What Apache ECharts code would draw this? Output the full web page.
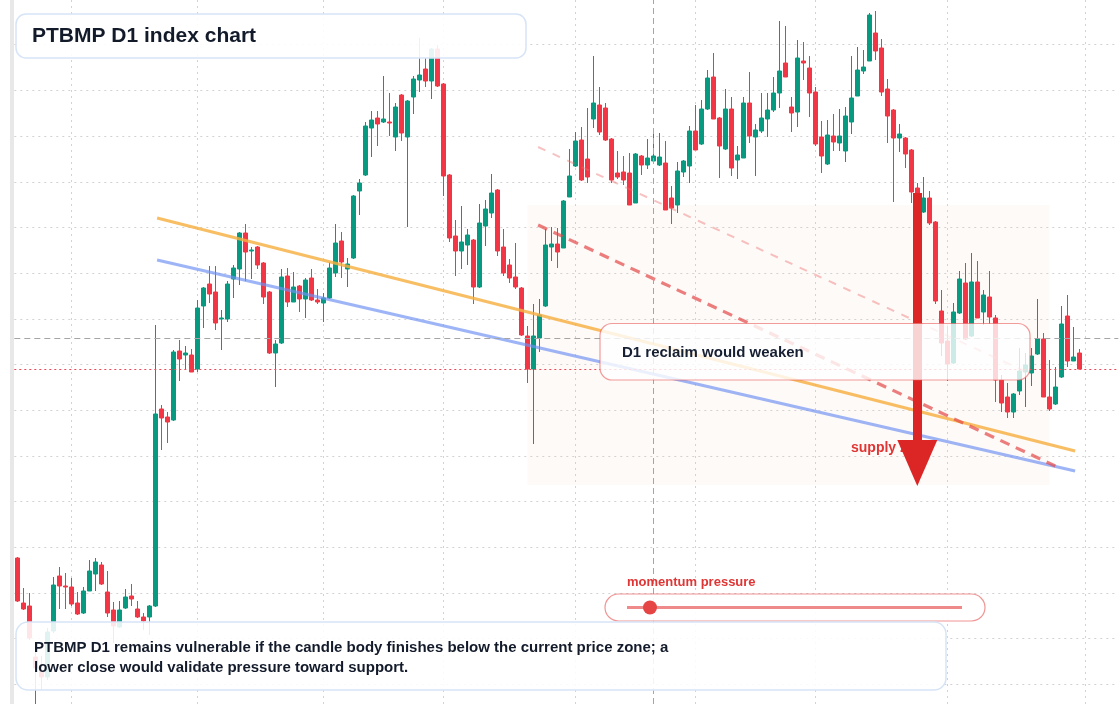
<!DOCTYPE html>
<html>
<head>
<meta charset="utf-8">
<script src="https://cdn.jsdelivr.net/npm/echarts@6/dist/echarts.min.js"></script>
<style>
html,body{margin:0;padding:0;background:#fff;}
#c{width:1120px;height:704px;}
</style>
</head>
<body>
<div id="c"></div>
<script>
// ---- data (price units, arbitrary index scale) ----
const categories = Array.from({length: 184}, (_, i) => 'D' + (i + 1));

const opens = [
172,127,124,73,59,53,99,154,144,143,
127,117,139,156,165,138,120,103,122,134,
121,113,113,124,321,313,310,379,375,375,
361,424,446,438,411,411,451,461,497,479,
483,467,438,377,387,454,428,444,431,452,
430,427,432,457,489,461,472,539,555,602,
612,608,608,593,635,593,633,650,661,649,
681,646,555,494,479,485,490,443,504,517,
540,483,465,453,442,394,361,392,424,483,
486,482,533,564,590,571,611,625,622,591,
557,558,557,527,574,565,569,565,567,532,
525,558,564,599,586,621,653,612,581,621,
570,572,627,593,599,611,620,637,667,623,
618,669,662,638,593,566,594,587,579,608,
634,659,669,697,682,641,620,592,592,580,
542,518,532,508,419,389,367,417,447,394,
448,418,433,412,350,333,318,339,358,357,
376,391,333,326,353,414,369,377];

const closes = [
129,121,92,62,53,98,145,144,143,126,
116,139,159,168,146,117,104,120,133,131,
113,109,124,316,312,308,378,371,377,358,
422,442,436,407,412,446,462,497,478,480,
465,433,377,386,453,428,443,431,450,430,
428,432,462,487,468,466,534,547,604,610,
606,611,607,623,597,629,651,655,649,681,
644,554,492,479,488,495,443,507,521,537,
479,457,452,443,395,361,394,415,485,486,
478,529,554,589,550,553,627,598,590,550,
553,550,525,576,565,572,574,573,520,522,
559,569,599,580,621,652,611,584,621,562,
575,627,594,600,612,620,637,659,653,617,
672,667,637,586,574,595,588,594,614,632,
660,663,715,679,638,614,592,596,576,538,
534,532,507,429,387,366,418,451,391,448,
412,435,413,350,327,318,336,359,365,374,
391,333,321,343,406,369,373,361];

const lows = [
128,120,90,24,40,50,97,121,121,124,
115,116,139,139,145,113,87,102,121,124,
112,100,95,123,280,287,309,349,361,358,
358,402,427,400,380,408,432,445,449,451,
461,426,376,343,386,423,428,418,412,429,
426,408,431,453,452,443,471,515,554,573,
584,607,594,579,589,503,616,638,643,631,
643,534,488,454,461,465,426,442,484,512,
474,454,447,441,394,347,286,378,423,469,
462,482,533,563,549,547,602,595,589,547,
551,545,525,527,555,561,567,564,520,506,
517,553,547,580,585,620,611,552,580,554,
551,572,587,554,597,593,618,622,653,598,
603,650,613,584,557,565,579,579,568,596,
634,656,669,670,634,587,528,578,562,527,
520,517,505,426,374,349,366,416,390,393,
412,405,406,328,318,312,312,335,323,344,
375,333,319,325,352,363,369,361];

const highs = [
173,142,137,80,74,102,153,163,157,152,
138,143,170,172,168,159,128,129,141,146,
129,117,125,405,325,318,380,390,384,381,
430,443,464,464,420,449,465,498,506,483,
484,468,439,390,461,462,458,445,452,461,
441,437,468,506,498,472,535,551,608,619,
619,654,637,627,636,630,654,692,672,682,
685,647,556,510,524,501,491,526,530,556,
541,501,471,487,443,404,426,431,501,503,
502,530,581,598,603,622,674,643,627,592,
579,574,577,577,575,591,600,597,589,544,
568,570,604,625,630,660,677,613,641,633,
584,633,658,606,637,637,653,709,704,633,
690,688,674,643,609,610,616,621,623,674,
683,680,717,719,691,651,621,606,593,581,
547,553,539,509,440,404,427,459,467,477,
469,440,459,415,355,347,337,382,377,382,
431,397,370,363,424,435,403,381];

// horizontal grid levels (price units)
const hGridVals = [46, 92, 137, 183, 229, 274, 320, 366, 411, 457, 503, 548, 594, 640, 686];
// vertical grid positions (category index)
const vGridIdx    = [9, 30, 51, 71, 93, 113, 133, 155, 178];

// annotations in data coordinates [index, price]
const trendOrange = [[23.3, 512], [176.3, 279]];
const trendBlue   = [[23.3, 470], [176.3, 259]];
const dashStrong  = [[86.8, 505], [173.0, 264]];
const dashLight   = [[86.8, 583], [168.9, 356]];
const supplyZone  = [[85, 525], [172, 245]];
const arrowShaft  = [[150, 537], [150, 267]];
const crossIdx    = 106;
const crossPrice  = 392;
const lastClose   = closes[closes.length - 1];

// ---- chart ----
const candleData = opens.map((o, i) => [o, closes[i], lows[i], highs[i]]);
const chart = echarts.init(document.getElementById('c'), null, {renderer: 'canvas'});
const FONT = '"Liberation Sans", Arial, Helvetica, sans-serif';
const UP = '#089981', DOWN = '#F23645';
const GRIDC = '#d2d2d2';

const hidden = {axisLine:{show:false}, axisTick:{show:false}, axisLabel:{show:false}, splitLine:{show:false}};

chart.setOption({
  animation: false,
  backgroundColor: '#ffffff',
  grid: {left: 14.3, right: 1.7, top: 0, bottom: 0, containLabel: false},
  xAxis: [
    Object.assign({type: 'category', data: categories, boundaryGap: true}, hidden),
    Object.assign({type: 'value', min: -0.5, max: 183.5, show: false}, hidden)
  ],
  yAxis: Object.assign({type: 'value', min: 26, max: 730, scale: true}, hidden),
  series: [
    { // grid lines
      type: 'line', xAxisIndex: 0, data: [], silent: true,
      markLine: {
        z: 1, silent: true, symbol: 'none', animation: false,
        label: {show: false},
        lineStyle: {color: GRIDC, type: [2, 4], width: 1},
        data: vGridIdx.map(i => ({xAxis: i})).concat(hGridVals.map(v => ({yAxis: v})))
      }
    },
    { // supply zone shading
      type: 'line', xAxisIndex: 1, data: [], silent: true,
      markArea: {
        z: 1, silent: true, animation: false,
        itemStyle: {color: 'rgba(240,150,80,0.045)'},
        label: {show: false},
        data: [[{coord: supplyZone[0]}, {coord: supplyZone[1]}]]
      }
    },
    {
      type: 'candlestick', xAxisIndex: 0, data: candleData, barWidth: 5, z: 2,
      itemStyle: {color: UP, color0: DOWN, borderColor: UP, borderColor0: DOWN, borderWidth: 1}
    },
    {type: 'line', xAxisIndex: 1, data: trendOrange, symbol: 'none', z: 3, silent: true,
      lineStyle: {color: 'rgba(247,176,66,0.82)', width: 3}},
    {type: 'line', xAxisIndex: 1, data: trendBlue, symbol: 'none', z: 3, silent: true,
      lineStyle: {color: 'rgba(110,145,242,0.68)', width: 3}},
    {type: 'line', xAxisIndex: 1, data: dashStrong, symbol: 'none', z: 3, silent: true,
      lineStyle: {color: 'rgba(226,72,72,0.7)', width: 3.2, type: [10, 7]}},
    {type: 'line', xAxisIndex: 1, data: dashLight, symbol: 'none', z: 3, silent: true,
      lineStyle: {color: 'rgba(236,110,110,0.42)', width: 2, type: [8, 8]}},
    { // crosshair & last price
      type: 'line', xAxisIndex: 0, data: [], silent: true,
      markLine: {
        z: 4, silent: true, symbol: 'none', animation: false, label: {show: false},
        data: [
          {yAxis: crossPrice, lineStyle: {color: '#a5a5a5', type: [6, 4], width: 1}},
          {yAxis: lastClose, lineStyle: {color: '#ee4655', type: [2, 3], width: 1}},
          {xAxis: crossIdx, lineStyle: {color: '#a5a5a5', type: [6, 4], width: 1}}
        ]
      }
    },
    { // down arrow
      type: 'line', xAxisIndex: 1, data: [], silent: true,
      markLine: {
        z: 6, silent: true, symbol: 'none', animation: false, label: {show: false},
        lineStyle: {color: '#dc2626', width: 9, type: 'solid', opacity: 1},
        data: [[{coord: arrowShaft[0]}, {coord: arrowShaft[1]}]]
      },
      markPoint: {
        z: 6, silent: true, animation: false,
        symbol: 'triangle', symbolSize: [40, 46], symbolRotate: 180,
        itemStyle: {color: '#dc2626'}, label: {show: false},
        data: [{coord: arrowShaft[1]}]
      }
    }
  ],
  graphic: [
    {type: 'rect', z: 0, silent: true, shape: {x: 10, y: 0, width: 4, height: 704}, style: {fill: '#e8e8e8'}},
    // supply zone label (under arrow)
    {type: 'text', z: 5, silent: true, x: 851, y: 448,
      style: {text: 'supply zone', font: 'bold 14px ' + FONT, fill: '#e03535', verticalAlign: 'middle'}},
    // title
    {type: 'rect', z: 20, silent: true, shape: {x: 16, y: 14, width: 510, height: 44, r: 10},
      style: {fill: 'rgba(255,255,255,0.9)', stroke: '#d6e4f7', lineWidth: 1.5}},
    {type: 'text', z: 21, silent: true, x: 32, y: 36,
      style: {text: 'PTBMP D1 index chart', font: 'bold 21px ' + FONT, fill: '#131b2b', verticalAlign: 'middle'}},
    // callout
    {type: 'rect', z: 20, silent: true, shape: {x: 600, y: 323.5, width: 430, height: 56.5, r: 12},
      style: {fill: 'rgba(255,255,255,0.8)', stroke: 'rgba(232,90,90,0.6)', lineWidth: 1.2}},
    {type: 'text', z: 21, silent: true, x: 622, y: 353,
      style: {text: 'D1 reclaim would weaken', font: 'bold 15px ' + FONT, fill: '#172033', verticalAlign: 'middle'}},
    // momentum pressure
    {type: 'text', z: 21, silent: true, x: 627, y: 582,
      style: {text: 'momentum pressure', font: 'bold 13px ' + FONT, fill: '#e03535', verticalAlign: 'middle'}},
    {type: 'rect', z: 20, silent: true, shape: {x: 605, y: 594, width: 380, height: 27, r: 13.5},
      style: {fill: 'rgba(255,255,255,0.9)', stroke: 'rgba(232,90,90,0.65)', lineWidth: 1.2}},
    {type: 'line', z: 21, silent: true, shape: {x1: 627, y1: 607.5, x2: 962, y2: 607.5},
      style: {stroke: '#ef8a8a', lineWidth: 3}},
    {type: 'circle', z: 22, silent: true, shape: {cx: 650, cy: 607.5, r: 7},
      style: {fill: '#e64545'}},
    // bottom note
    {type: 'rect', z: 20, silent: true, shape: {x: 16, y: 622, width: 930, height: 68, r: 12},
      style: {fill: 'rgba(255,255,255,0.88)', stroke: '#d6e4f7', lineWidth: 1.5}},
    {type: 'text', z: 21, silent: true, x: 34, y: 648,
      style: {text: 'PTBMP D1 remains vulnerable if the candle body finishes below the current price zone; a',
        font: 'bold 15px ' + FONT, fill: '#131b2b', verticalAlign: 'middle'}},
    {type: 'text', z: 21, silent: true, x: 34, y: 668,
      style: {text: 'lower close would validate pressure toward support.',
        font: 'bold 15px ' + FONT, fill: '#131b2b', verticalAlign: 'middle'}}
  ]
});
</script>
</body>
</html>
